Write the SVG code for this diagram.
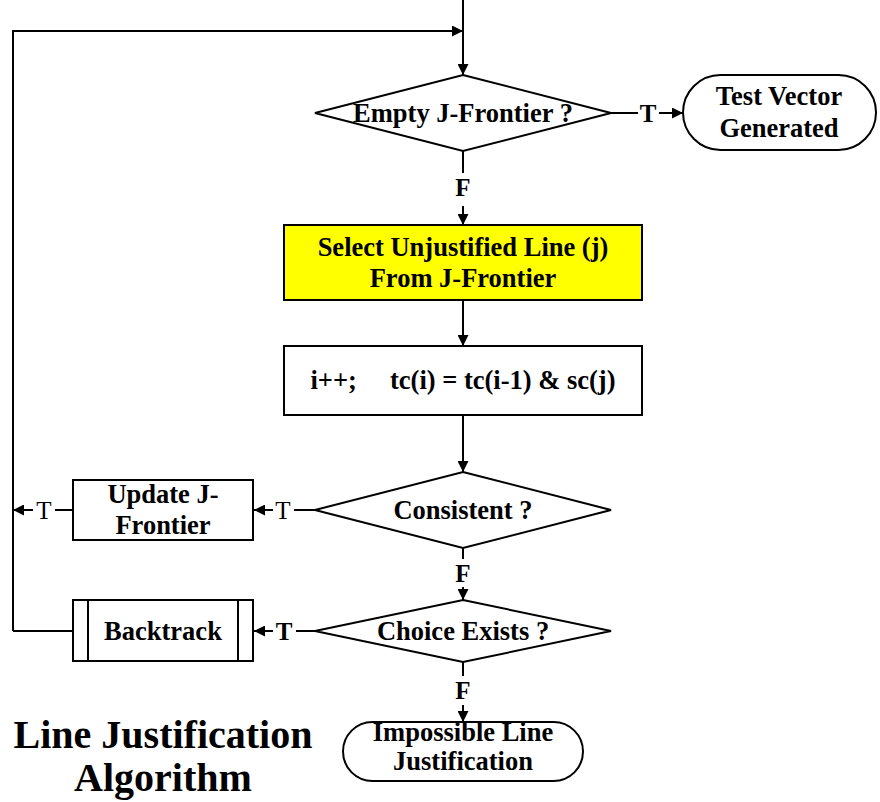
<svg xmlns="http://www.w3.org/2000/svg" width="880" height="802" viewBox="0 0 880 802">
<style>
.s{fill:#fff;stroke:#000;stroke-width:2}
.y{fill:#ffff00;stroke:#000;stroke-width:2}
.c{fill:none;stroke:#000;stroke-width:2}
text{font-family:"Liberation Serif","Times New Roman",serif;font-weight:bold;text-anchor:middle;fill:#000}
.n{font-size:26.5px}
.l{font-size:25px}
.r{font-weight:normal}
.t{font-size:40px}
</style>
<defs>
<marker id="a" viewBox="0 0 10 10" refX="10" refY="5" markerWidth="11" markerHeight="11" markerUnits="userSpaceOnUse" orient="auto">
<path d="M0,0L10,5L0,10z" fill="#000"/>
</marker>
</defs>
<g id="connectors">
<path class="c" d="M463,0V75" marker-end="url(#a)"/>
<path class="c" d="M13,631V31H463" marker-end="url(#a)"/>
<path class="c" d="M611,113H638"/>
<path class="c" d="M659,113H683" marker-end="url(#a)"/>
<path class="c" d="M463,151V173"/>
<path class="c" d="M463,206V225" marker-end="url(#a)"/>
<path class="c" d="M463,300V346" marker-end="url(#a)"/>
<path class="c" d="M463,415V472" marker-end="url(#a)"/>
<path class="c" d="M315,510H294"/>
<path class="c" d="M273,510H254" marker-end="url(#a)"/>
<path class="c" d="M73,510H55"/>
<path class="c" d="M33,510H13" marker-end="url(#a)"/>
<path class="c" d="M463,548V559"/>
<path class="c" d="M463,587V600" marker-end="url(#a)"/>
<path class="c" d="M315,631H296"/>
<path class="c" d="M273,631H254" marker-end="url(#a)"/>
<path class="c" d="M73,631H13"/>
<path class="c" d="M463,662V676"/>
<path class="c" d="M463,705V722" marker-end="url(#a)"/>
<text class="l" x="648" y="122">T</text>
<text class="l" x="463" y="196">F</text>
<text class="l r" x="283" y="519">T</text>
<text class="l r" x="44" y="519">T</text>
<text class="l" x="463" y="582">F</text>
<text class="l" x="284" y="640">T</text>
<text class="l" x="463" y="699">F</text>
</g>
<g id="empty">
<polygon class="s" points="463,75 611,113 463,151 315,113"/>
<text class="n" x="463" y="122">Empty J-Frontier ?</text>
</g>
<g id="testvector">
<rect class="s" x="683" y="75" width="193" height="75" rx="37.5"/>
<text class="n" x="779" y="105">Test Vector</text>
<text class="n" x="779" y="137">Generated</text>
</g>
<g id="select">
<rect class="y" x="284" y="225" width="358" height="75"/>
<text class="n" x="463" y="256">Select Unjustified Line (j)</text>
<text class="n" x="463" y="287">From J-Frontier</text>
</g>
<g id="assign">
<rect class="s" x="284" y="346" width="358" height="69"/>
<text class="n" x="463" y="389" xml:space="preserve">i++;     tc(i) = tc(i-1) &amp; sc(j)</text>
</g>
<g id="consistent">
<polygon class="s" points="463,472 611,510 463,548 315,510"/>
<text class="n" x="463" y="519">Consistent ?</text>
</g>
<g id="update">
<rect class="s" x="73" y="480" width="180" height="60"/>
<text class="n" x="163" y="503">Update J-</text>
<text class="n" x="163" y="534">Frontier</text>
</g>
<g id="choice">
<polygon class="s" points="463,600 611,631 463,662 315,631"/>
<text class="n" x="463" y="640">Choice Exists ?</text>
</g>
<g id="backtrack">
<rect class="s" x="73" y="600" width="180" height="61"/>
<path class="c" d="M88,600V661M238,600V661"/>
<text class="n" x="163" y="640">Backtrack</text>
</g>
<g id="impossible">
<rect class="s" x="343" y="722" width="240" height="59" rx="29.5"/>
<text class="n" x="463" y="741">Impossible Line</text>
<text class="n" x="463" y="770">Justification</text>
</g>
<g id="title">
<text class="t" x="163" y="748">Line Justification</text>
<text class="t" x="163" y="791">Algorithm</text>
</g>
</svg>
